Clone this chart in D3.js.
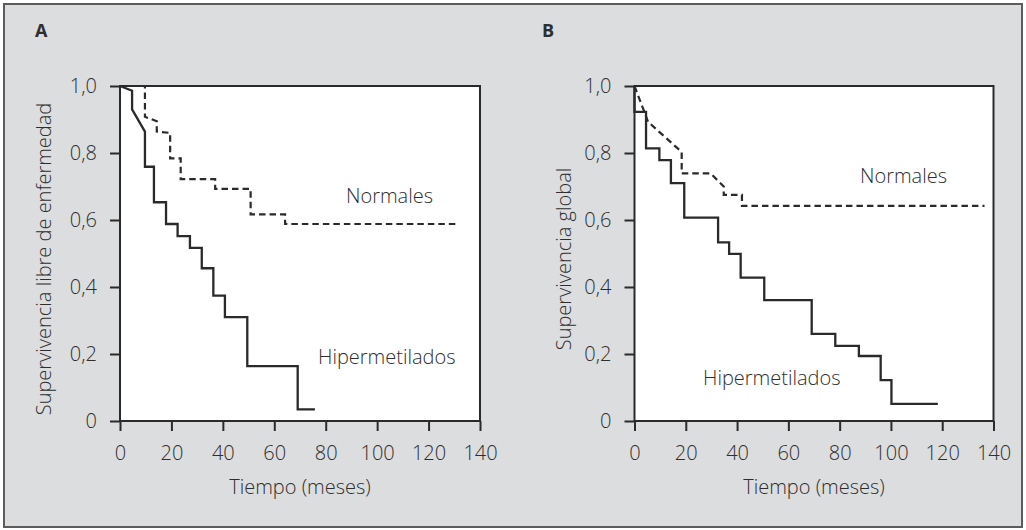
<!DOCTYPE html>
<html>
<head>
<meta charset="utf-8">
<script src="https://cdn.jsdelivr.net/npm/d3@7"></script>
<style>
  html, body { margin: 0; padding: 0; background: #ffffff; }
  svg { display: block; }
  text { font-family: "Open Sans", "Noto Sans", sans-serif; font-weight: 300; fill: #2e2e2e; }
</style>
</head>
<body>
<svg id="chart" width="1026" height="530"></svg>
<script>
// Axis ticks shared by both panels
const timeTicks = [0, 20, 40, 60, 80, 100, 120, 140];
const survTicks = [0, 0.2, 0.4, 0.6, 0.8, 1.0];
const survTickLabels = ["0", "0,2", "0,4", "0,6", "0,8", "1,0"];

// Panel A: disease-free survival (Kaplan-Meier vertices)
const dfsNormalTime = [0, 9.7, 9.7, 14.3, 14.3, 19.5, 19.5, 23.6, 23.6, 37.0, 37.0, 50.8, 50.8, 64.2, 64.2, 130.6];
const dfsNormalSurv = [1.0, 1.0, 0.908, 0.895, 0.864, 0.860, 0.784, 0.784, 0.722, 0.722, 0.693, 0.693, 0.617, 0.617, 0.588, 0.588];
const dfsHyperTime = [0, 4.7, 4.7, 9.7, 9.7, 13.2, 13.2, 17.9, 17.9, 22.4, 22.4, 27.2, 27.2, 31.8, 31.8, 36.3, 36.3, 40.8, 40.8, 49.5, 49.5, 69.1, 69.1, 75.8];
const dfsHyperSurv = [1.0, 0.986, 0.930, 0.864, 0.759, 0.759, 0.653, 0.653, 0.588, 0.588, 0.552, 0.552, 0.517, 0.517, 0.456, 0.456, 0.374, 0.374, 0.310, 0.310, 0.164, 0.164, 0.035, 0.035];

// Panel B: overall survival (Kaplan-Meier vertices)
const osNormalTime = [0, 5.3, 18.4, 18.4, 29.7, 34.8, 34.8, 41.9, 41.9, 136.5];
const osNormalSurv = [1.0, 0.893, 0.803, 0.739, 0.739, 0.700, 0.675, 0.675, 0.642, 0.642];
const osHyperTime = [0, 0, 4.5, 4.5, 9.7, 9.7, 14.2, 14.2, 19.4, 19.4, 32.6, 32.6, 36.9, 36.9, 41.4, 41.4, 50.6, 50.6, 69.1, 69.1, 78.3, 78.3, 87.5, 87.5, 96.0, 96.0, 100.2, 100.2, 118.3];
const osHyperSurv = [1.0, 0.923, 0.923, 0.814, 0.814, 0.779, 0.779, 0.710, 0.710, 0.607, 0.607, 0.533, 0.533, 0.499, 0.499, 0.428, 0.428, 0.361, 0.361, 0.260, 0.260, 0.224, 0.224, 0.194, 0.194, 0.122, 0.122, 0.051, 0.051];

const svg = d3.select("#chart");
const ink = "#2a2a2a";

// Gray frame around both panels
svg.append("rect")
  .attr("x", 4).attr("y", 4).attr("width", 1018).attr("height", 523)
  .attr("fill", "#dcdddf").attr("stroke", "#5c5c5c").attr("stroke-width", 2);

const panels = [
  {
    letter: "A", letterX: 35,
    left: 120, right: 480,
    yTitle: "Supervivencia libre de enfermedad", yTitleX: 44,
    normal: { t: dfsNormalTime, s: dfsNormalSurv },
    hyper: { t: dfsHyperTime, s: dfsHyperSurv },
    normalLabel: [346, 203], hyperLabel: [318, 364]
  },
  {
    letter: "B", letterX: 542,
    left: 634.5, right: 993.5,
    yTitle: "Supervivencia global", yTitleX: 564,
    normal: { t: osNormalTime, s: osNormalSurv },
    hyper: { t: osHyperTime, s: osHyperSurv },
    normalLabel: [860, 183], hyperLabel: [703, 385]
  }
];

const plotTop = 86, plotBottom = 421;

panels.forEach(p => {
  const x = d3.scaleLinear().domain([0, 140]).range([p.left, p.right]);
  const y = d3.scaleLinear().domain([0, 1]).range([plotBottom, plotTop]);
  const g = svg.append("g");

  // White plotting area
  g.append("rect")
    .attr("x", p.left).attr("y", plotTop)
    .attr("width", p.right - p.left).attr("height", plotBottom - plotTop)
    .attr("fill", "#ffffff");

  // Y axis
  const yAxis = g.append("g")
    .attr("transform", `translate(${p.left},0)`)
    .call(d3.axisLeft(y).tickValues(survTicks).tickSize(10).tickSizeOuter(0)
      .tickPadding(13).tickFormat((d, i) => survTickLabels[i]));

  // X axis
  const xAxis = g.append("g")
    .attr("transform", `translate(0,${plotBottom})`)
    .call(d3.axisBottom(x).tickValues(timeTicks).tickSize(10).tickSizeOuter(0)
      .tickPadding(15).tickFormat(d3.format("d")));

  [yAxis, xAxis].forEach(ax => {
    ax.selectAll("path.domain").remove();
    ax.selectAll("line").attr("stroke", ink).attr("stroke-width", 2);
    ax.selectAll("text").attr("font-size", 20).attr("fill", "#2e2e2e")
      .style("font-family", "'Open Sans', sans-serif").style("font-weight", 300);
  });

  // Box around the plotting area
  g.append("rect")
    .attr("x", p.left).attr("y", plotTop)
    .attr("width", p.right - p.left).attr("height", plotBottom - plotTop)
    .attr("fill", "none").attr("stroke", ink).attr("stroke-width", 2);

  const line = d3.line().x(d => x(d[0])).y(d => y(d[1]));

  // Normal group: dashed curve
  g.append("path")
    .datum(d3.zip(p.normal.t, p.normal.s))
    .attr("d", line)
    .attr("fill", "none").attr("stroke", ink)
    .attr("stroke-width", 2.2).attr("stroke-dasharray", "6.5,4");

  // Hypermethylated group: solid curve
  g.append("path")
    .datum(d3.zip(p.hyper.t, p.hyper.s))
    .attr("d", line)
    .attr("fill", "none").attr("stroke", ink)
    .attr("stroke-width", 2.3);

  // Curve labels
  g.append("text").attr("x", p.normalLabel[0]).attr("y", p.normalLabel[1])
    .attr("font-size", 20).text("Normales");
  g.append("text").attr("x", p.hyperLabel[0]).attr("y", p.hyperLabel[1])
    .attr("font-size", 20).text("Hipermetilados");

  // Axis titles
  g.append("text")
    .attr("x", (p.left + p.right) / 2).attr("y", 494)
    .attr("text-anchor", "middle").attr("font-size", 20)
    .text("Tiempo (meses)");
  g.append("text")
    .attr("transform", `translate(${p.yTitleX},259) rotate(-90)`)
    .attr("text-anchor", "middle").attr("dy", "0.35em").attr("font-size", 20)
    .text(p.yTitle);

  // Panel letter
  g.append("text")
    .attr("x", p.letterX).attr("y", 37)
    .attr("font-size", 18).style("font-weight", 700).attr("fill", "#222222")
    .text(p.letter);
});
</script>
</body>
</html>
